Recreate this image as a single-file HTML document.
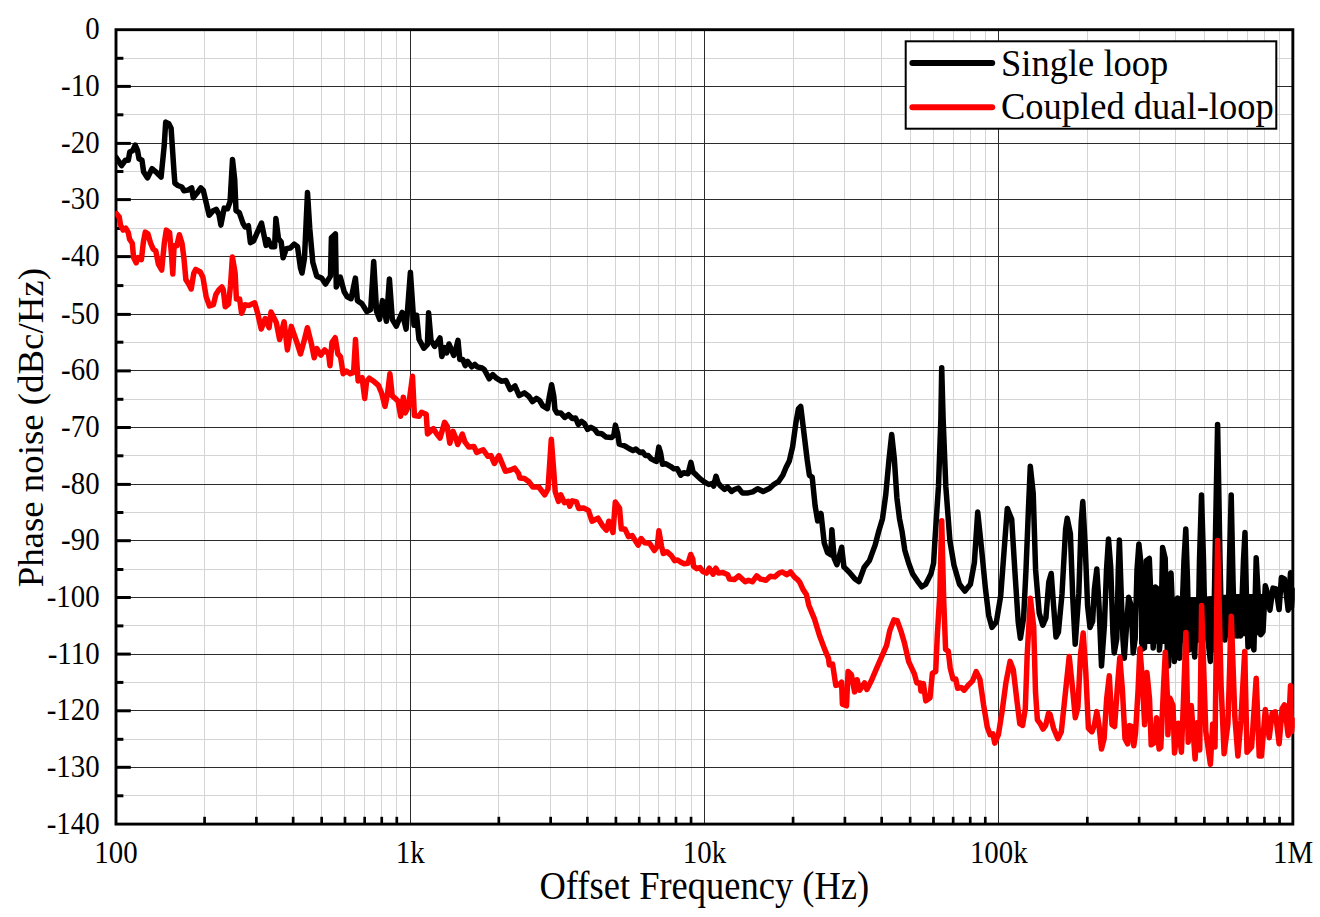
<!DOCTYPE html>
<html><head><meta charset="utf-8"><style>
html,body{margin:0;padding:0;background:#fff;}
svg{display:block;}
text{font-family:"Liberation Serif",serif;fill:#000;}
.tl{font-size:28.9px;}
.lg{font-size:36.5px;}
.ax{font-size:36.5px;}
.ay{font-size:36px;}
.mg{stroke:#d4d4d4;stroke-width:1;}
.Mg{stroke:#2b2b2b;stroke-width:1;}
.tk{stroke:#000;stroke-width:3;}
.tkx{stroke:#000;stroke-width:2.7;}
</style></head><body>
<svg width="1320" height="917" viewBox="0 0 1320 917">
<rect width="1320" height="917" fill="#fff"/>
<line x1="204.5" y1="29.7" x2="204.5" y2="824.1" class="mg"/>
<line x1="256.5" y1="29.7" x2="256.5" y2="824.1" class="mg"/>
<line x1="293.5" y1="29.7" x2="293.5" y2="824.1" class="mg"/>
<line x1="321.5" y1="29.7" x2="321.5" y2="824.1" class="mg"/>
<line x1="344.5" y1="29.7" x2="344.5" y2="824.1" class="mg"/>
<line x1="364.5" y1="29.7" x2="364.5" y2="824.1" class="mg"/>
<line x1="381.5" y1="29.7" x2="381.5" y2="824.1" class="mg"/>
<line x1="396.5" y1="29.7" x2="396.5" y2="824.1" class="mg"/>
<line x1="498.5" y1="29.7" x2="498.5" y2="824.1" class="mg"/>
<line x1="550.5" y1="29.7" x2="550.5" y2="824.1" class="mg"/>
<line x1="587.5" y1="29.7" x2="587.5" y2="824.1" class="mg"/>
<line x1="615.5" y1="29.7" x2="615.5" y2="824.1" class="mg"/>
<line x1="639.5" y1="29.7" x2="639.5" y2="824.1" class="mg"/>
<line x1="658.5" y1="29.7" x2="658.5" y2="824.1" class="mg"/>
<line x1="675.5" y1="29.7" x2="675.5" y2="824.1" class="mg"/>
<line x1="691.5" y1="29.7" x2="691.5" y2="824.1" class="mg"/>
<line x1="793.5" y1="29.7" x2="793.5" y2="824.1" class="mg"/>
<line x1="844.5" y1="29.7" x2="844.5" y2="824.1" class="mg"/>
<line x1="881.5" y1="29.7" x2="881.5" y2="824.1" class="mg"/>
<line x1="910.5" y1="29.7" x2="910.5" y2="824.1" class="mg"/>
<line x1="933.5" y1="29.7" x2="933.5" y2="824.1" class="mg"/>
<line x1="953.5" y1="29.7" x2="953.5" y2="824.1" class="mg"/>
<line x1="970.5" y1="29.7" x2="970.5" y2="824.1" class="mg"/>
<line x1="985.5" y1="29.7" x2="985.5" y2="824.1" class="mg"/>
<line x1="1087.5" y1="29.7" x2="1087.5" y2="824.1" class="mg"/>
<line x1="1139.5" y1="29.7" x2="1139.5" y2="824.1" class="mg"/>
<line x1="1175.5" y1="29.7" x2="1175.5" y2="824.1" class="mg"/>
<line x1="1204.5" y1="29.7" x2="1204.5" y2="824.1" class="mg"/>
<line x1="1227.5" y1="29.7" x2="1227.5" y2="824.1" class="mg"/>
<line x1="1247.5" y1="29.7" x2="1247.5" y2="824.1" class="mg"/>
<line x1="1264.5" y1="29.7" x2="1264.5" y2="824.1" class="mg"/>
<line x1="1279.5" y1="29.7" x2="1279.5" y2="824.1" class="mg"/>
<line x1="116.0" y1="58.5" x2="1292.85" y2="58.5" class="mg"/>
<line x1="116.0" y1="114.5" x2="1292.85" y2="114.5" class="mg"/>
<line x1="116.0" y1="171.5" x2="1292.85" y2="171.5" class="mg"/>
<line x1="116.0" y1="228.5" x2="1292.85" y2="228.5" class="mg"/>
<line x1="116.0" y1="285.5" x2="1292.85" y2="285.5" class="mg"/>
<line x1="116.0" y1="342.5" x2="1292.85" y2="342.5" class="mg"/>
<line x1="116.0" y1="399.5" x2="1292.85" y2="399.5" class="mg"/>
<line x1="116.0" y1="455.5" x2="1292.85" y2="455.5" class="mg"/>
<line x1="116.0" y1="512.5" x2="1292.85" y2="512.5" class="mg"/>
<line x1="116.0" y1="569.5" x2="1292.85" y2="569.5" class="mg"/>
<line x1="116.0" y1="625.5" x2="1292.85" y2="625.5" class="mg"/>
<line x1="116.0" y1="682.5" x2="1292.85" y2="682.5" class="mg"/>
<line x1="116.0" y1="739.5" x2="1292.85" y2="739.5" class="mg"/>
<line x1="116.0" y1="795.5" x2="1292.85" y2="795.5" class="mg"/>
<line x1="410.5" y1="29.7" x2="410.5" y2="824.1" class="Mg"/>
<line x1="704.5" y1="29.7" x2="704.5" y2="824.1" class="Mg"/>
<line x1="998.5" y1="29.7" x2="998.5" y2="824.1" class="Mg"/>
<line x1="116.0" y1="86.5" x2="1292.85" y2="86.5" class="Mg"/>
<line x1="116.0" y1="143.5" x2="1292.85" y2="143.5" class="Mg"/>
<line x1="116.0" y1="199.5" x2="1292.85" y2="199.5" class="Mg"/>
<line x1="116.0" y1="256.5" x2="1292.85" y2="256.5" class="Mg"/>
<line x1="116.0" y1="314.5" x2="1292.85" y2="314.5" class="Mg"/>
<line x1="116.0" y1="370.5" x2="1292.85" y2="370.5" class="Mg"/>
<line x1="116.0" y1="427.5" x2="1292.85" y2="427.5" class="Mg"/>
<line x1="116.0" y1="484.5" x2="1292.85" y2="484.5" class="Mg"/>
<line x1="116.0" y1="540.5" x2="1292.85" y2="540.5" class="Mg"/>
<line x1="116.0" y1="597.5" x2="1292.85" y2="597.5" class="Mg"/>
<line x1="116.0" y1="654.5" x2="1292.85" y2="654.5" class="Mg"/>
<line x1="116.0" y1="710.5" x2="1292.85" y2="710.5" class="Mg"/>
<line x1="116.0" y1="767.5" x2="1292.85" y2="767.5" class="Mg"/>
<line x1="116.0" y1="86.40" x2="130.8" y2="86.40" class="tk"/>
<line x1="116.0" y1="143.40" x2="130.8" y2="143.40" class="tk"/>
<line x1="116.0" y1="199.60" x2="130.8" y2="199.60" class="tk"/>
<line x1="116.0" y1="256.60" x2="130.8" y2="256.60" class="tk"/>
<line x1="116.0" y1="314.40" x2="130.8" y2="314.40" class="tk"/>
<line x1="116.0" y1="370.90" x2="130.8" y2="370.90" class="tk"/>
<line x1="116.0" y1="427.50" x2="130.8" y2="427.50" class="tk"/>
<line x1="116.0" y1="484.40" x2="130.8" y2="484.40" class="tk"/>
<line x1="116.0" y1="540.70" x2="130.8" y2="540.70" class="tk"/>
<line x1="116.0" y1="597.50" x2="130.8" y2="597.50" class="tk"/>
<line x1="116.0" y1="654.10" x2="130.8" y2="654.10" class="tk"/>
<line x1="116.0" y1="710.80" x2="130.8" y2="710.80" class="tk"/>
<line x1="116.0" y1="767.30" x2="130.8" y2="767.30" class="tk"/>
<line x1="116.0" y1="58.30" x2="123.4" y2="58.30" class="tk"/>
<line x1="116.0" y1="114.80" x2="123.4" y2="114.80" class="tk"/>
<line x1="116.0" y1="171.50" x2="123.4" y2="171.50" class="tk"/>
<line x1="116.0" y1="228.50" x2="123.4" y2="228.50" class="tk"/>
<line x1="116.0" y1="285.60" x2="123.4" y2="285.60" class="tk"/>
<line x1="116.0" y1="342.20" x2="123.4" y2="342.20" class="tk"/>
<line x1="116.0" y1="399.30" x2="123.4" y2="399.30" class="tk"/>
<line x1="116.0" y1="455.80" x2="123.4" y2="455.80" class="tk"/>
<line x1="116.0" y1="512.50" x2="123.4" y2="512.50" class="tk"/>
<line x1="116.0" y1="569.50" x2="123.4" y2="569.50" class="tk"/>
<line x1="116.0" y1="625.90" x2="123.4" y2="625.90" class="tk"/>
<line x1="116.0" y1="682.40" x2="123.4" y2="682.40" class="tk"/>
<line x1="116.0" y1="739.30" x2="123.4" y2="739.30" class="tk"/>
<line x1="116.0" y1="795.80" x2="123.4" y2="795.80" class="tk"/>
<line x1="204.58" y1="824.1" x2="204.58" y2="816.8" class="tkx"/>
<line x1="256.39" y1="824.1" x2="256.39" y2="816.8" class="tkx"/>
<line x1="293.16" y1="824.1" x2="293.16" y2="816.8" class="tkx"/>
<line x1="321.67" y1="824.1" x2="321.67" y2="816.8" class="tkx"/>
<line x1="344.97" y1="824.1" x2="344.97" y2="816.8" class="tkx"/>
<line x1="364.67" y1="824.1" x2="364.67" y2="816.8" class="tkx"/>
<line x1="381.73" y1="824.1" x2="381.73" y2="816.8" class="tkx"/>
<line x1="396.79" y1="824.1" x2="396.79" y2="816.8" class="tkx"/>
<line x1="498.83" y1="824.1" x2="498.83" y2="816.8" class="tkx"/>
<line x1="550.64" y1="824.1" x2="550.64" y2="816.8" class="tkx"/>
<line x1="587.41" y1="824.1" x2="587.41" y2="816.8" class="tkx"/>
<line x1="615.92" y1="824.1" x2="615.92" y2="816.8" class="tkx"/>
<line x1="639.22" y1="824.1" x2="639.22" y2="816.8" class="tkx"/>
<line x1="658.92" y1="824.1" x2="658.92" y2="816.8" class="tkx"/>
<line x1="675.98" y1="824.1" x2="675.98" y2="816.8" class="tkx"/>
<line x1="691.04" y1="824.1" x2="691.04" y2="816.8" class="tkx"/>
<line x1="793.08" y1="824.1" x2="793.08" y2="816.8" class="tkx"/>
<line x1="844.89" y1="824.1" x2="844.89" y2="816.8" class="tkx"/>
<line x1="881.66" y1="824.1" x2="881.66" y2="816.8" class="tkx"/>
<line x1="910.17" y1="824.1" x2="910.17" y2="816.8" class="tkx"/>
<line x1="933.47" y1="824.1" x2="933.47" y2="816.8" class="tkx"/>
<line x1="953.17" y1="824.1" x2="953.17" y2="816.8" class="tkx"/>
<line x1="970.23" y1="824.1" x2="970.23" y2="816.8" class="tkx"/>
<line x1="985.29" y1="824.1" x2="985.29" y2="816.8" class="tkx"/>
<line x1="1087.33" y1="824.1" x2="1087.33" y2="816.8" class="tkx"/>
<line x1="1139.14" y1="824.1" x2="1139.14" y2="816.8" class="tkx"/>
<line x1="1175.91" y1="824.1" x2="1175.91" y2="816.8" class="tkx"/>
<line x1="1204.42" y1="824.1" x2="1204.42" y2="816.8" class="tkx"/>
<line x1="1227.72" y1="824.1" x2="1227.72" y2="816.8" class="tkx"/>
<line x1="1247.42" y1="824.1" x2="1247.42" y2="816.8" class="tkx"/>
<line x1="1264.48" y1="824.1" x2="1264.48" y2="816.8" class="tkx"/>
<line x1="1279.54" y1="824.1" x2="1279.54" y2="816.8" class="tkx"/>
<rect x="116.0" y="29.7" width="1176.85" height="794.40" fill="none" stroke="#000" stroke-width="2.9"/>
<defs><clipPath id="pc"><rect x="115.3" y="20" width="1179.5" height="810"/></clipPath></defs>
<g clip-path="url(#pc)">
<path d="M116.0,157.3 L121.5,165.6 L125.3,160.3 L128.3,160.3 L129.8,151.9 L132.9,150.4 L135.2,145.0 L137.5,150.4 L139.0,158.8 L142.0,160.3 L143.6,171.8 L147.4,177.9 L152.0,168.7 L155.8,171.8 L161.1,177.1 L164.2,145.8 L165.7,122.1 L168.8,123.7 L171.1,128.2 L174.1,173.3 L174.9,183.2 L177.9,185.5 L181.8,187.0 L184.0,190.8 L187.9,190.1 L191.7,187.8 L193.2,197.7 L197.0,193.1 L200.8,187.8 L203.3,190.4 L205.9,201.5 L209.2,215.3 L213.1,210.7 L216.4,209.4 L219.0,214.6 L220.9,225.1 L224.2,208.1 L227.5,208.7 L230.1,201.5 L232.5,159.6 L234.7,179.3 L236.0,210.7 L239.3,212.6 L243.2,223.8 L245.2,227.0 L248.4,225.7 L250.4,242.7 L253.7,240.8 L257.6,231.6 L261.5,223.1 L266.1,245.4 L268.1,239.5 L271.3,246.7 L274.6,246.7 L275.9,218.5 L278.5,238.8 L281.2,242.1 L283.1,257.8 L286.4,248.6 L290.3,248.0 L294.2,244.1 L297.5,246.7 L300.5,268.0 L302.0,273.0 L304.5,258.0 L307.5,192.6 L309.8,228.9 L312.8,262.3 L316.7,276.1 L321.6,278.1 L325.5,284.0 L330.5,276.1 L331.4,237.8 L335.4,233.9 L336.3,286.9 L340.3,277.1 L344.2,291.8 L347.2,296.7 L351.1,298.7 L355.4,278.1 L357.4,300.6 L361.9,303.6 L366.8,311.5 L370.7,309.5 L373.7,261.4 L376.6,311.5 L379.6,319.3 L382.5,300.6 L386.4,321.3 L389.4,279.0 L392.3,319.3 L396.3,326.2 L399.2,319.3 L402.2,312.4 L406.1,329.1 L410.4,272.2 L414.0,325.2 L416.6,315.2 L419.0,339.2 L423.8,348.2 L427.4,344.6 L428.6,312.8 L431.0,340.4 L434.6,346.4 L437.0,342.8 L440.0,338.0 L441.8,356.6 L444.8,347.6 L446.6,353.0 L449.0,344.0 L453.8,355.4 L455.6,350.0 L458.0,340.4 L459.8,359.6 L462.8,359.6 L465.2,365.6 L467.6,361.4 L471.8,366.8 L474.8,364.4 L477.2,366.8 L482.0,368.0 L484.4,369.8 L489.2,378.8 L492.8,374.6 L496.4,378.2 L501.2,381.2 L506.0,380.6 L510.2,389.6 L515.0,386.0 L519.2,395.6 L524.4,392.9 L528.7,396.2 L532.5,401.6 L536.4,398.4 L539.6,400.5 L542.9,406.0 L547.3,408.7 L549.4,396.2 L551.6,384.7 L553.8,396.2 L554.9,409.3 L557.1,413.1 L560.9,413.1 L564.7,417.4 L568.5,414.7 L572.3,418.5 L575.6,418.0 L578.3,424.5 L581.6,421.3 L584.3,423.4 L587.6,429.4 L590.9,427.3 L594.7,429.4 L597.4,433.2 L601.8,433.8 L606.1,437.1 L611.6,437.6 L613.8,435.4 L615.4,425.1 L617.6,433.2 L619.2,444.2 L624.7,445.8 L629.0,448.5 L633.0,450.5 L635.9,449.1 L639.9,452.5 L642.8,452.0 L645.3,455.5 L648.2,455.5 L651.2,458.9 L654.1,460.4 L656.6,461.4 L658.8,447.1 L660.5,452.5 L662.5,464.3 L666.0,463.8 L670.4,466.3 L673.8,468.8 L677.3,468.8 L680.7,475.2 L683.7,472.7 L688.1,473.7 L690.9,462.4 L693.1,472.2 L696.0,474.7 L700.0,478.6 L703.9,481.6 L708.8,484.5 L711.8,483.5 L713.7,486.0 L716.0,476.2 L718.2,483.1 L720.6,486.0 L724.6,489.5 L727.5,487.0 L731.5,491.4 L734.4,489.5 L738.4,488.0 L742.3,492.9 L748.2,492.9 L752.7,491.9 L757.6,488.7 L763.1,491.5 L769.7,488.3 L774.0,484.3 L778.4,481.7 L782.8,475.2 L786.0,467.5 L789.3,461.0 L792.6,446.8 L795.9,422.8 L798.5,408.6 L800.7,406.4 L803.5,429.3 L807.2,459.9 L809.4,475.2 L812.2,477.3 L815.1,505.7 L817.7,521.0 L821.0,513.4 L824.2,542.8 L827.5,552.7 L830.8,554.8 L831.9,529.7 L834.1,558.1 L836.9,564.7 L841.7,547.2 L843.9,566.9 L849.3,572.3 L855.0,579.0 L859.0,581.6 L864.2,567.2 L869.4,560.6 L875.2,544.9 L878.6,531.8 L882.5,518.7 L885.7,495.2 L889.1,458.5 L891.7,434.5 L894.3,458.5 L896.9,497.8 L899.5,518.7 L902.1,531.8 L904.8,550.2 L908.7,563.2 L912.6,573.7 L917.8,581.6 L921.8,586.8 L925.7,584.2 L931.0,573.7 L933.6,563.2 L934.9,540.7 L938.5,486.2 L940.9,418.1 L941.7,367.7 L943.1,418.1 L945.8,486.2 L949.9,540.7 L954.0,565.3 L959.5,584.3 L964.9,591.1 L970.4,584.3 L974.4,562.5 L977.7,512.1 L981.3,546.2 L985.5,589.2 L988.7,615.4 L992.0,627.4 L996.4,621.9 L1000.7,595.7 L1004.0,552.0 L1007.3,508.4 L1011.7,519.3 L1014.9,571.7 L1018.2,621.9 L1020.4,638.3 L1023.6,617.9 L1026.0,569.9 L1028.4,510.0 L1030.3,466.3 L1033.2,493.2 L1035.6,569.9 L1039.2,613.1 L1042.8,625.1 L1045.9,617.9 L1048.8,581.9 L1051.2,573.5 L1053.6,605.9 L1056.0,637.0 L1058.4,632.3 L1062.0,593.9 L1065.6,529.1 L1067.2,518.3 L1070.4,533.9 L1072.8,598.7 L1075.2,644.2 L1078.8,593.9 L1081.2,521.9 L1082.8,501.6 L1085.2,545.9 L1087.6,605.9 L1090.0,627.5 L1092.6,621.5 L1094.4,589.0 L1096.8,569.0 L1099.0,605.0 L1101.5,666.0 L1104.4,625.4 L1106.5,570.0 L1108.5,539.0 L1110.7,567.2 L1112.9,632.7 L1114.2,652.9 L1116.8,638.5 L1118.3,570.0 L1119.4,540.0 L1121.4,600.0 L1123.0,640.0 L1124.3,658.2 L1126.6,625.4 L1128.6,597.3 L1131.2,605.8 L1133.2,652.9 L1135.2,638.5 L1137.0,570.0 L1138.9,544.0 L1140.6,560.0 L1142.4,649.0 L1144.5,647.9 L1146.3,560.7 L1149.3,558.5 L1151.5,610.9 L1153.2,647.9 L1155.4,586.9 L1157.6,589.0 L1159.4,650.1 L1160.9,632.7 L1162.6,547.6 L1165.2,558.5 L1167.4,654.5 L1168.5,666.0 L1170.0,600.0 L1171.0,573.0 L1172.5,610.0 L1174.4,661.4 L1176.0,620.0 L1177.5,598.0 L1179.6,658.2 L1181.0,615.0 L1182.5,600.0 L1184.0,560.0 L1185.8,529.1 L1187.5,580.0 L1189.0,650.0 L1190.5,600.0 L1192.0,625.0 L1194.7,656.9 L1196.5,600.0 L1198.0,640.0 L1199.5,560.0 L1201.5,495.1 L1203.5,560.0 L1205.0,630.0 L1206.5,600.0 L1208.0,640.0 L1210.4,661.4 L1212.0,610.0 L1213.5,650.0 L1215.0,560.0 L1217.6,424.4 L1220.0,560.0 L1221.5,630.0 L1223.0,600.0 L1224.8,640.0 L1226.5,605.0 L1228.0,630.0 L1229.5,560.0 L1231.2,495.1 L1233.0,580.0 L1234.5,636.0 L1236.0,600.0 L1237.5,636.0 L1239.0,600.0 L1240.5,636.0 L1242.0,600.0 L1243.5,560.0 L1245.0,532.6 L1246.5,600.0 L1248.0,646.9 L1249.5,605.0 L1251.0,637.7 L1253.9,649.9 L1256.2,557.8 L1258.5,601.1 L1260.8,634.7 L1263.0,631.6 L1265.3,585.8 L1267.6,593.4 L1269.9,610.2 L1273.0,588.1 L1276.0,588.9 L1279.1,609.5 L1281.4,577.4 L1284.4,578.9 L1288.2,610.2 L1290.5,572.8 L1291.6,607.2 L1293.0,590.0" fill="none" stroke="#000" stroke-width="5.5" stroke-linejoin="round" stroke-linecap="round"/>
<polygon points="1139,599 1170,598 1200,597 1233,594 1263,594 1263,635 1233,637 1200,641 1170,644 1139,644" fill="#000"/>
<path d="M116.5,213.7 L119.2,217.0 L120.5,224.9 L123.1,230.1 L125.7,228.1 L128.3,232.7 L129.6,239.3 L132.3,243.2 L133.6,257.6 L136.2,262.8 L138.1,257.6 L141.4,259.6 L143.4,241.9 L145.3,232.1 L148.0,234.0 L150.6,243.2 L153.2,249.1 L155.8,251.0 L158.4,264.1 L161.7,270.0 L164.3,243.2 L166.3,230.1 L169.6,232.7 L171.5,255.0 L172.8,274.0 L174.1,245.8 L176.8,245.8 L179.4,234.7 L182.0,243.2 L184.0,258.9 L185.9,279.8 L188.5,283.8 L191.2,289.0 L193.8,273.3 L195.7,269.4 L200.3,272.0 L202.9,277.2 L206.2,296.9 L209.5,306.0 L213.4,304.7 L216.0,294.2 L218.6,290.3 L221.9,287.0 L223.3,289.7 L225.2,306.8 L228.5,304.1 L230.5,285.8 L232.4,257.0 L235.1,272.7 L236.4,298.9 L239.6,298.9 L241.6,313.3 L244.9,304.8 L248.8,305.4 L254.7,302.8 L258.0,314.6 L261.2,329.0 L265.2,318.5 L269.1,327.7 L271.0,312.0 L276.3,322.5 L279.6,339.5 L284.1,321.8 L287.4,349.9 L291.3,326.4 L297.2,343.4 L300.5,353.9 L303.8,342.1 L307.4,327.7 L311.6,344.7 L314.2,357.8 L316.9,348.6 L320.8,355.2 L324.7,349.9 L328.6,353.9 L330.0,365.8 L332.0,342.3 L335.2,337.7 L337.9,354.0 L340.5,356.6 L343.1,373.7 L346.4,371.0 L350.3,373.7 L353.6,372.4 L355.5,339.6 L356.8,361.9 L358.1,380.9 L362.1,377.6 L364.7,398.5 L366.6,381.5 L369.3,378.2 L373.2,380.9 L378.4,385.4 L381.7,393.3 L385.0,406.4 L387.6,393.3 L389.9,373.7 L392.2,395.9 L395.4,398.5 L398.1,401.2 L400.7,416.2 L403.3,397.2 L405.3,412.9 L408.5,406.4 L412.5,376.3 L414.4,415.5 L419.0,416.2 L421.6,412.3 L426.2,414.2 L427.5,433.9 L433.4,428.6 L436.7,433.9 L440.0,438.0 L442.0,431.4 L444.6,422.3 L447.2,426.2 L449.8,443.2 L453.1,431.4 L455.7,438.0 L457.7,444.5 L462.3,434.0 L464.9,441.9 L468.8,447.1 L474.0,446.5 L476.6,452.4 L483.2,449.7 L487.8,456.3 L491.0,455.6 L494.3,463.5 L498.9,455.6 L505.4,471.3 L510.7,470.0 L514.6,468.1 L518.5,473.3 L519.8,477.9 L524.4,478.5 L529.0,481.8 L532.9,487.0 L538.8,487.0 L544.7,494.9 L548.0,489.0 L551.3,439.3 L553.9,473.3 L555.2,491.6 L558.5,501.4 L560.8,494.8 L564.4,502.6 L568.0,501.4 L569.8,506.2 L572.2,500.8 L576.4,502.0 L578.8,508.6 L583.6,508.0 L588.4,510.4 L592.0,521.2 L598.0,518.2 L602.8,526.0 L606.4,530.1 L608.8,521.2 L613.0,532.5 L615.3,502.0 L619.5,508.0 L621.3,528.9 L624.9,528.9 L628.5,536.7 L632.1,535.5 L638.1,545.1 L641.1,538.5 L644.7,542.7 L649.5,543.3 L654.3,550.5 L657.3,546.3 L658.9,530.7 L661.5,546.3 L663.3,553.5 L666.9,551.7 L671.1,555.3 L674.7,560.7 L677.6,560.0 L680.9,562.2 L684.2,563.8 L688.0,563.3 L690.7,554.5 L692.9,559.4 L693.4,566.0 L696.7,568.7 L700.0,567.6 L702.7,571.4 L706.5,573.1 L709.3,568.2 L713.1,574.2 L715.8,568.2 L718.5,573.1 L722.9,572.5 L727.8,574.7 L729.4,579.1 L734.3,579.6 L738.7,575.8 L745.2,581.8 L748.5,580.2 L752.3,581.8 L756.7,575.8 L760.5,579.1 L766.0,580.2 L770.3,576.3 L774.7,576.9 L779.1,573.1 L782.3,572.0 L786.7,574.7 L790.5,572.0 L794.3,576.9 L798.1,580.2 L799.8,582.3 L803.1,589.6 L806.4,594.5 L808.8,605.2 L814.5,619.1 L819.5,635.5 L824.4,648.6 L828.5,658.4 L829.3,664.9 L832.6,664.1 L835.8,685.4 L839.1,684.6 L841.6,682.1 L842.4,704.2 L846.5,705.8 L848.1,671.5 L851.4,674.7 L854.6,691.9 L857.1,679.7 L859.6,690.3 L864.5,682.9 L866.9,689.5 L871.8,679.7 L876.7,668.2 L881.7,656.7 L886.6,645.3 L889.8,630.6 L893.9,619.9 L897.2,620.7 L901.3,632.2 L904.6,643.6 L908.7,661.7 L914.4,673.9 L916.8,682.9 L920.1,682.9 L920.9,691.1 L923.4,683.7 L925.8,700.9 L930.0,697.7 L932.4,673.1 L935.7,671.5 L937.3,635.5 L939.8,594.5 L941.7,520.8 L943.7,600.0 L945.6,649.4 L948.3,651.2 L950.2,667.9 L953.0,679.1 L955.8,679.1 L957.6,688.3 L961.3,687.4 L964.1,690.2 L968.8,684.6 L972.5,680.9 L976.2,671.6 L979.9,679.1 L983.6,705.0 L987.3,727.3 L990.1,734.7 L992.9,733.8 L994.7,743.1 L998.4,734.7 L1002.2,710.6 L1005.9,682.8 L1010.1,661.4 L1013.3,669.8 L1017.0,701.3 L1019.8,723.6 L1022.6,725.4 L1025.3,708.7 L1027.2,654.9 L1030.4,598.3 L1033.7,627.1 L1035.5,692.0 L1037.4,719.9 L1040.2,723.6 L1043.0,729.1 L1045.7,725.4 L1048.5,713.4 L1050.0,714.2 L1053.5,728.2 L1057.9,738.7 L1061.3,731.7 L1064.8,698.5 L1069.2,656.6 L1072.7,689.8 L1075.3,717.7 L1077.9,707.3 L1080.5,654.9 L1083.2,633.1 L1085.8,672.4 L1088.4,728.2 L1091.9,731.7 L1094.5,724.7 L1096.8,711.6 L1098.9,724.7 L1101.5,749.1 L1104.1,738.7 L1106.7,698.5 L1109.3,675.8 L1112.0,724.7 L1114.6,726.5 L1117.2,689.8 L1119.8,657.5 L1122.4,689.8 L1125.0,738.7 L1127.7,743.9 L1129.4,725.6 L1132.0,726.5 L1133.8,745.7 L1135.5,733.4 L1138.1,689.8 L1139.9,648.8 L1142.5,681.1 L1144.6,724.7 L1146.9,672.4 L1149.5,698.5 L1151.2,744.8 L1154.7,742.2 L1156.5,717.7 L1159.1,749.1 L1160.8,747.4 L1163.4,689.8 L1165.3,652.2 L1167.6,701.1 L1167.9,734.7 L1169.9,698.0 L1173.0,705.6 L1174.5,753.0 L1178.3,723.2 L1181.4,752.2 L1183.5,700.0 L1185.9,632.6 L1188.2,742.3 L1191.3,705.6 L1195.1,759.1 L1197.4,722.4 L1199.7,749.9 L1201.6,605.5 L1205.8,731.6 L1210.4,764.4 L1212.7,724.0 L1215.0,746.9 L1217.6,540.5 L1221.1,685.8 L1224.1,753.7 L1227.9,724.0 L1231.3,616.3 L1234.8,716.3 L1237.9,756.0 L1240.9,720.9 L1244.7,651.5 L1247.0,752.2 L1251.6,746.9 L1256.2,678.2 L1259.2,756.0 L1261.5,756.0 L1265.3,709.5 L1269.2,737.7 L1272.2,713.3 L1275.3,711.8 L1279.1,743.8 L1282.1,708.7 L1284.4,704.9 L1288.2,735.4 L1290.5,685.8 L1291.6,731.6 L1293.0,720.0" fill="none" stroke="#f00" stroke-width="5.5" stroke-linejoin="round" stroke-linecap="round"/>
</g>
<rect x="905.7" y="41.3" width="370.6" height="87.4" fill="#fff" stroke="#000" stroke-width="2"/>
<line x1="912.4" y1="63" x2="992.2" y2="63" stroke="#000" stroke-width="6" stroke-linecap="round"/>
<line x1="912.4" y1="107.2" x2="992.2" y2="107.2" stroke="#f00" stroke-width="6" stroke-linecap="round"/>
<text transform="translate(1001,75.5) scale(1,1.06)" class="lg">Single loop</text>
<text transform="translate(1001,119.3) scale(1,1.06)" class="lg">Coupled dual-loop</text>
<text transform="translate(99.6,39.1) scale(1,1.12)" text-anchor="end" class="tl">0</text>
<text transform="translate(99.6,95.8) scale(1,1.12)" text-anchor="end" class="tl">-10</text>
<text transform="translate(99.6,152.8) scale(1,1.12)" text-anchor="end" class="tl">-20</text>
<text transform="translate(99.6,209.0) scale(1,1.12)" text-anchor="end" class="tl">-30</text>
<text transform="translate(99.6,266.0) scale(1,1.12)" text-anchor="end" class="tl">-40</text>
<text transform="translate(99.6,323.8) scale(1,1.12)" text-anchor="end" class="tl">-50</text>
<text transform="translate(99.6,380.3) scale(1,1.12)" text-anchor="end" class="tl">-60</text>
<text transform="translate(99.6,436.9) scale(1,1.12)" text-anchor="end" class="tl">-70</text>
<text transform="translate(99.6,493.8) scale(1,1.12)" text-anchor="end" class="tl">-80</text>
<text transform="translate(99.6,550.1) scale(1,1.12)" text-anchor="end" class="tl">-90</text>
<text transform="translate(99.6,606.9) scale(1,1.12)" text-anchor="end" class="tl">-100</text>
<text transform="translate(99.6,663.5) scale(1,1.12)" text-anchor="end" class="tl">-110</text>
<text transform="translate(99.6,720.2) scale(1,1.12)" text-anchor="end" class="tl">-120</text>
<text transform="translate(99.6,776.7) scale(1,1.12)" text-anchor="end" class="tl">-130</text>
<text transform="translate(99.6,833.5) scale(1,1.12)" text-anchor="end" class="tl">-140</text>
<text transform="translate(116.0,863) scale(1,1.12)" text-anchor="middle" class="tl">100</text>
<text transform="translate(410.2,863) scale(1,1.12)" text-anchor="middle" class="tl">1k</text>
<text transform="translate(704.5,863) scale(1,1.12)" text-anchor="middle" class="tl">10k</text>
<text transform="translate(998.8,863) scale(1,1.12)" text-anchor="middle" class="tl">100k</text>
<text transform="translate(1293.0,863) scale(1,1.12)" text-anchor="middle" class="tl">1M</text>
<text transform="translate(704.3,898.5) scale(1,1.084)" text-anchor="middle" class="ax">Offset Frequency (Hz)</text>
<text transform="translate(42.7,427.7) rotate(-90) scale(1.024,1)" text-anchor="middle" class="ay">Phase noise (dBc/Hz)</text>
</svg>
</body></html>
